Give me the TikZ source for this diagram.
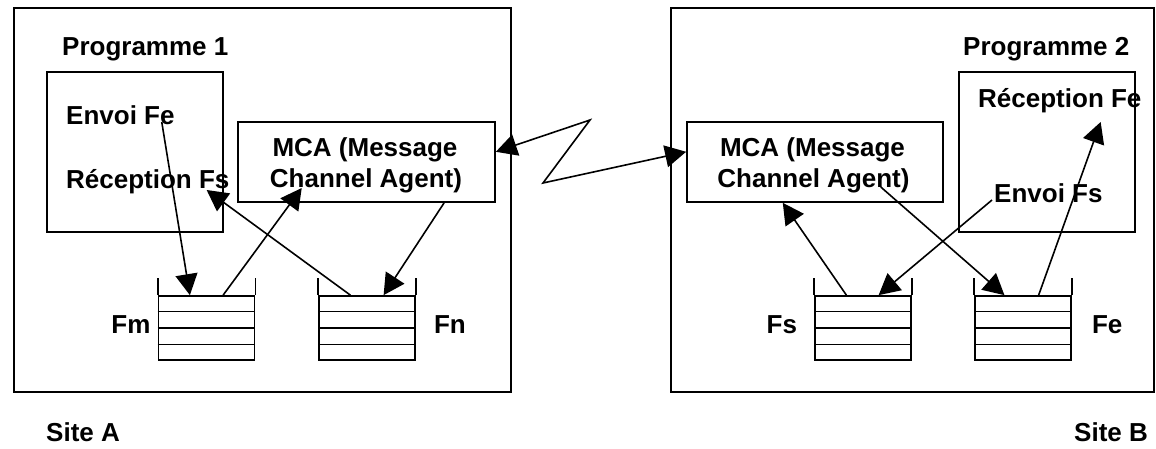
\documentclass[tikz,border=0pt]{standalone}
\usepackage{fontspec}
\setmainfont{Liberation Sans}
\usetikzlibrary{arrows.meta,calc}
\tikzset{box/.style={draw,line width=1.7pt,inner sep=0pt},
	txt/.style={inner sep=0pt,font=\fontsize{26}{30}\selectfont\bfseries},
	queue/.style={draw,line width=1.7pt,inner sep=0pt,minimum width=96pt,minimum height=64pt},
	head/.tip={Triangle[length=21pt,width=22pt]},
	flow/.style={-head,line width=1.6pt}}
% inner slots and open sides of a queue node
\newcommand{\slots}[1]{%
	\draw[line width=1.7pt] (#1.north west) -- ++(0,-17) (#1.north east) -- ++(0,-17);
	\foreach \f in {.25,.5,.75}
		\draw[line width=1.7pt] ($(#1.south west)!\f!(#1.north west)$) -- ($(#1.south east)!\f!(#1.north east)$);}

\begin{document}
\begin{tikzpicture}[x=1pt,y=-1pt]
	\useasboundingbox (0,0) rectangle (1156,449);
	% sites
	\node[box,minimum width=497pt,minimum height=384pt] (siteAbox) at (262.5,200) {};
	\node[box,minimum width=483pt,minimum height=384pt] (siteBbox) at (912.5,200) {};
	\node[txt,anchor=base west] (siteA) at (46,441) {Site A};
	\node[txt,anchor=base west] (siteB) at (1074,441) {Site B};
	% programmes
	\node[box,minimum width=176pt,minimum height=160pt] (prog1) at (135,152) {};
	\node[box,minimum width=176pt,minimum height=160pt] (prog2) at (1047,152) {};
	\node[txt,anchor=base west] (prog1lbl) at (62,56) {Programme 1};
	\node[txt,anchor=base west] (prog2lbl) at (963,56) {Programme 2};
	\node[txt,anchor=base west] (envoiFe) at (66,125) {Envoi Fe};
	\node[txt,anchor=base west] (recepFs) at (66,189) {Réception Fs};
	\node[txt,anchor=base west] (recepFe) at (978,108) {Réception Fe};
	\node[txt,anchor=base west] (envoiFs) at (994,203) {Envoi Fs};
	% message channel agents
	\node[box,minimum width=257pt,minimum height=80pt] (mcaA) at (366.5,162) {};
	\node[box,minimum width=256pt,minimum height=80pt] (mcaB) at (815,162) {};
	\node[txt,anchor=base] (msgA) at (365,157) {MCA (Message};
	\node[txt,anchor=base] (chanA) at (366,188) {Channel Agent)};
	\node[txt,anchor=base] (msgB) at (812.5,157) {MCA (Message};
	\node[txt,anchor=base] (chanB) at (813.5,188) {Channel Agent)};
	% queues
	\node[queue] (fm) at (206.5,328) {};
	\node[queue] (fn) at (367,328) {};
	\node[queue] (fs) at (863,328) {};
	\node[queue] (fe) at (1023,328) {};
	\slots{fm} \slots{fn} \slots{fs} \slots{fe}
	\node[txt,anchor=base east] (fmlbl) at ($(fm.west)+(-7,5)$) {Fm};
	\node[txt,anchor=base west] (fnlbl) at ($(fn.east)+(18,5)$) {Fn};
	\node[txt,anchor=base east] (fslbl) at ($(fs.west)+(-17,5)$) {Fs};
	\node[txt,anchor=base west] (felbl) at ($(fe.east)+(20,5)$) {Fe};
	% site A flows
	\draw[flow] ($(envoiFe.base east)+(-13,-3)$) -- ($(fm.north west)!.33!(fm.north east)$);
	\draw[flow] ($(fm.north west)!.67!(fm.north east)$) -- ($(chanA.base west)+(32,0)$);
	\draw[flow] ($(fn.north west)!.33!(fn.north east)$) -- ($(recepFs.base east)+(-23,1)$);
	\draw[flow] ($(mcaA.south west)!.8!(mcaA.south east)$) -- ($(fn.north west)!.67!(fn.north east)$);
	% site B flows
	\draw[flow] ($(fs.north west)!.33!(fs.north east)$) -- ($(mcaB.south west)!.375!(mcaB.south east)$);
	\draw[flow] ($(envoiFs.base west)+(-2,-3)$) -- ($(fs.north west)!.66!(fs.north east)$);
	\draw[flow] ($(chanB.base east)+(-29,-1)$) -- ($(fe.north west)!.31!(fe.north east)$);
	\draw[flow] ($(fe.north west)!.66!(fe.north east)$) -- ($(recepFe.base east)+(-41,14)$);
	% link between the two agents
	\coordinate (zzA) at (590,120);
	\coordinate (zzB) at (543,183);
	\draw[flow,head-head] ($(mcaA.north east)!.375!(mcaA.south east)$) -- (zzA) -- (zzB)
		-- ($(mcaB.north west)!.375!(mcaB.south west)$);
\end{tikzpicture}
\end{document}
